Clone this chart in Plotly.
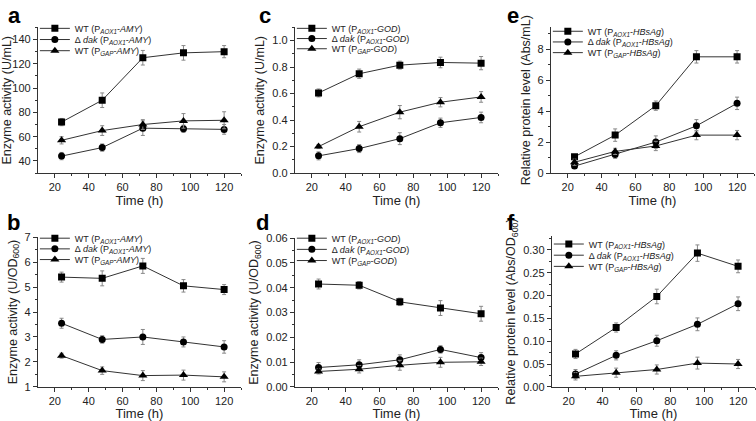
import plotly.graph_objects as go

time_h = [24, 48, 72, 96, 120]

# Panel a: Enzyme activity (U/mL), AMY
a_wt_aox1 = [72, 90, 125, 129, 130]
a_wt_aox1_err = [3, 6, 6, 6, 5]
a_dak_aox1 = [44, 51, 67, 66.5, 66]
a_dak_aox1_err = [3, 3, 6, 3, 4]
a_wt_gap = [57, 65, 70, 73, 73.5]
a_wt_gap_err = [3, 4, 4, 6, 7]

# Panel b: Enzyme activity (U/OD600), AMY
b_wt_aox1 = [5.4, 5.35, 5.85, 5.05, 4.9]
b_wt_aox1_err = [0.2, 0.3, 0.3, 0.25, 0.2]
b_dak_aox1 = [3.55, 2.9, 3.0, 2.8, 2.6]
b_dak_aox1_err = [0.2, 0.15, 0.3, 0.2, 0.25]
b_wt_gap = [2.25, 1.65, 1.45, 1.47, 1.4]
b_wt_gap_err = [0.1, 0.15, 0.2, 0.2, 0.2]

# Panel c: Enzyme activity (U/mL), GOD
c_wt_aox1 = [0.605, 0.75, 0.815, 0.835, 0.83]
c_wt_aox1_err = [0.03, 0.035, 0.03, 0.04, 0.05]
c_dak_aox1 = [0.13, 0.185, 0.26, 0.38, 0.42]
c_dak_aox1_err = [0.03, 0.03, 0.045, 0.035, 0.04]
c_wt_gap = [0.20, 0.35, 0.46, 0.535, 0.575]
c_wt_gap_err = [0.015, 0.04, 0.05, 0.035, 0.04]

# Panel d: Enzyme activity (U/OD600), GOD
d_wt_aox1 = [0.0415, 0.041, 0.0343, 0.0318, 0.0295]
d_wt_aox1_err = [0.002, 0.0015, 0.0015, 0.003, 0.003]
d_dak_aox1 = [0.0078, 0.0089, 0.0109, 0.0151, 0.0118]
d_dak_aox1_err = [0.002, 0.002, 0.002, 0.0015, 0.002]
d_wt_gap = [0.0062, 0.0071, 0.0087, 0.0099, 0.0101]
d_wt_gap_err = [0.001, 0.0015, 0.002, 0.002, 0.0015]

# Panel e: Relative protein level (Abs/mL), HBsAg
e_wt_aox1 = [1.05, 2.45, 4.35, 7.5, 7.5]
e_wt_aox1_err = [0.15, 0.4, 0.3, 0.4, 0.4]
e_dak_aox1 = [0.45, 1.2, 2.0, 3.05, 4.5]
e_dak_aox1_err = [0.15, 0.25, 0.4, 0.4, 0.4]
e_wt_gap = [0.7, 1.4, 1.75, 2.45, 2.45]
e_wt_gap_err = [0.2, 0.2, 0.3, 0.3, 0.3]

# Panel f: Relative protein level (Abs/OD600), HBsAg
f_wt_aox1 = [0.072, 0.130, 0.198, 0.293, 0.264]
f_wt_aox1_err = [0.01, 0.01, 0.016, 0.018, 0.014]
f_dak_aox1 = [0.028, 0.069, 0.101, 0.137, 0.182]
f_dak_aox1_err = [0.01, 0.01, 0.012, 0.014, 0.015]
f_wt_gap = [0.023, 0.031, 0.038, 0.052, 0.050]
f_wt_gap_err = [0.008, 0.01, 0.01, 0.013, 0.01]

x_ticks = [20, 40, 60, 80, 100, 120]

W, H = 756, 421
FONT = "Liberation Sans, Arial, sans-serif"


def px_x(v):
    return v / W


def px_y(v):
    return 1 - v / H


panels = [
    dict(label="a", lab=(12, 10), x=(35, 239), y=(22, 172), gene="AMY", leg_top=23, leg_gap=11.5,
         series=[(a_wt_aox1, a_wt_aox1_err), (a_dak_aox1, a_dak_aox1_err), (a_wt_gap, a_wt_gap_err)],
         yr=[30, 150], dt=20, ytitle="Enzyme activity (U/mL)", fmt=None),
    dict(label="c", lab=(263, 10), x=(293, 497), y=(22, 172), gene="GOD", leg_top=23, leg_gap=10.5,
         series=[(c_wt_aox1, c_wt_aox1_err), (c_dak_aox1, c_dak_aox1_err), (c_wt_gap, c_wt_gap_err)],
         yr=[0, 1.1], dt=0.2, ytitle="Enzyme activity (U/mL)", fmt=".1f"),
    dict(label="e", lab=(512, 10), x=(550, 754), y=(22, 172), gene="HBsAg", leg_top=26, leg_gap=11,
         series=[(e_wt_aox1, e_wt_aox1_err), (e_dak_aox1, e_dak_aox1_err), (e_wt_gap, e_wt_gap_err)],
         yr=[0, 9.4], dt=2, ytitle="Relative protein level (Abs/mL)", fmt=None),
    dict(label="b", lab=(11, 223), x=(35, 239), y=(238, 392), gene="AMY", leg_top=239, leg_gap=11,
         series=[(b_wt_aox1, b_wt_aox1_err), (b_dak_aox1, b_dak_aox1_err), (b_wt_gap, b_wt_gap_err)],
         yr=[1, 7], dt=1, ytitle="Enzyme activity (U/OD<sub>600</sub>)", fmt=None),
    dict(label="d", lab=(261, 223), x=(293, 497), y=(239, 392), gene="GOD", leg_top=239, leg_gap=11.5,
         series=[(d_wt_aox1, d_wt_aox1_err), (d_dak_aox1, d_dak_aox1_err), (d_wt_gap, d_wt_gap_err)],
         yr=[0, 0.06], dt=0.01, ytitle="Enzyme activity (U/OD<sub>600</sub>)", fmt=".2f"),
    dict(label="f", lab=(510, 223), x=(551, 755), y=(237, 392), gene="HBsAg", leg_top=245, leg_gap=11.5,
         series=[(f_wt_aox1, f_wt_aox1_err), (f_dak_aox1, f_dak_aox1_err), (f_wt_gap, f_wt_gap_err)],
         yr=[0, 0.33], dt=0.05, ytitle="Relative protein level (Abs/OD<sub>600</sub>)", fmt=".2f"),
]

symbols = ["square", "circle", "triangle-up"]
sym_sizes = [7, 7, 8]

fig = go.Figure()
layout = dict(
    width=W, height=H,
    margin=dict(l=0, r=0, t=0, b=0),
    paper_bgcolor="white", plot_bgcolor="white",
    font=dict(family=FONT, color="#222", size=11),
    showlegend=True,
)
annotations = []
leg_count = 0

for i, p in enumerate(panels):
    n = i + 1
    xa = "x" if n == 1 else f"x{n}"
    ya = "y" if n == 1 else f"y{n}"
    g = p["gene"]
    names = [
        f"WT (P<sub><i>AOX1</i></sub>-<i>{g}</i>)",
        f"Δ <i>dak</i> (P<sub><i>AOX1</i></sub>-<i>{g}</i>)",
        f"WT (P<sub><i>GAP</i></sub>-<i>{g}</i>)",
    ]
    for k, ((vals, errs), sym, ms, nm) in enumerate(zip(p["series"], symbols, sym_sizes, names)):
        leg_count += 1
        leg = "legend" if leg_count == 1 else f"legend{leg_count}"
        fig.add_trace(go.Scatter(
            x=time_h, y=vals, name=nm, mode="lines+markers",
            xaxis=xa, yaxis=ya, legend=leg,
            line=dict(color="#333", width=1),
            marker=dict(symbol=sym, size=ms, color="black"),
            error_y=dict(type="data", array=errs, visible=True,
                         color="#888", thickness=1, width=2),
        ))
        layout[leg] = dict(
            x=px_x(p["x"][0] - 3), y=px_y(p["leg_top"] + k * p["leg_gap"]),
            xanchor="left", yanchor="middle", xref="paper", yref="paper",
            bgcolor="rgba(0,0,0,0)", borderwidth=0,
            font=dict(size=9, color="#222", family=FONT),
            itemwidth=30, tracegroupgap=0,
        )
    xkey = "xaxis" if n == 1 else f"xaxis{n}"
    ykey = "yaxis" if n == 1 else f"yaxis{n}"
    layout[xkey] = dict(
        domain=[px_x(p["x"][0]), px_x(p["x"][1])], anchor=ya,
        range=[10, 130], tickmode="array", tickvals=x_ticks,
        showline=True, linecolor="#333", linewidth=1, ticks="outside",
        ticklen=4, tickcolor="#333", showgrid=False, zeroline=False,
        tickfont=dict(size=11, color="#222"),
        minor=dict(tickvals=[30, 50, 70, 90, 110, 130], ticks="outside", ticklen=2, tickcolor="#333"),
        title=dict(text="Time (h)", font=dict(size=13, color="#222"), standoff=2),
    )
    ydict = dict(
        domain=[px_y(p["y"][1]), px_y(p["y"][0])], anchor=xa,
        range=p["yr"], dtick=p["dt"], tick0=0,
        showline=True, linecolor="#333", linewidth=1, ticks="outside",
        ticklen=4, tickcolor="#333", showgrid=False, zeroline=False,
        tickfont=dict(size=11, color="#222"),
        minor=dict(ticks="outside", ticklen=2, tickcolor="#333", dtick=p["dt"] / 2),
        title=dict(text=p["ytitle"], font=dict(size=12.5, color="#222"), standoff=4),
    )
    if p["fmt"]:
        ydict["tickformat"] = p["fmt"]
    layout[ykey] = ydict
    annotations.append(dict(
        text=f"<b>{p['label']}</b>", x=px_x(p["lab"][0]), y=px_y(p["lab"][1]),
        xref="paper", yref="paper", showarrow=False, xanchor="center", yanchor="middle",
        font=dict(size=22, color="black", family=FONT),
    ))

layout["annotations"] = annotations
fig.update_layout(**layout)
fig.write_html("out.html", config={"displayModeBar": False},
               post_script="document.body.style.margin='0px';")
